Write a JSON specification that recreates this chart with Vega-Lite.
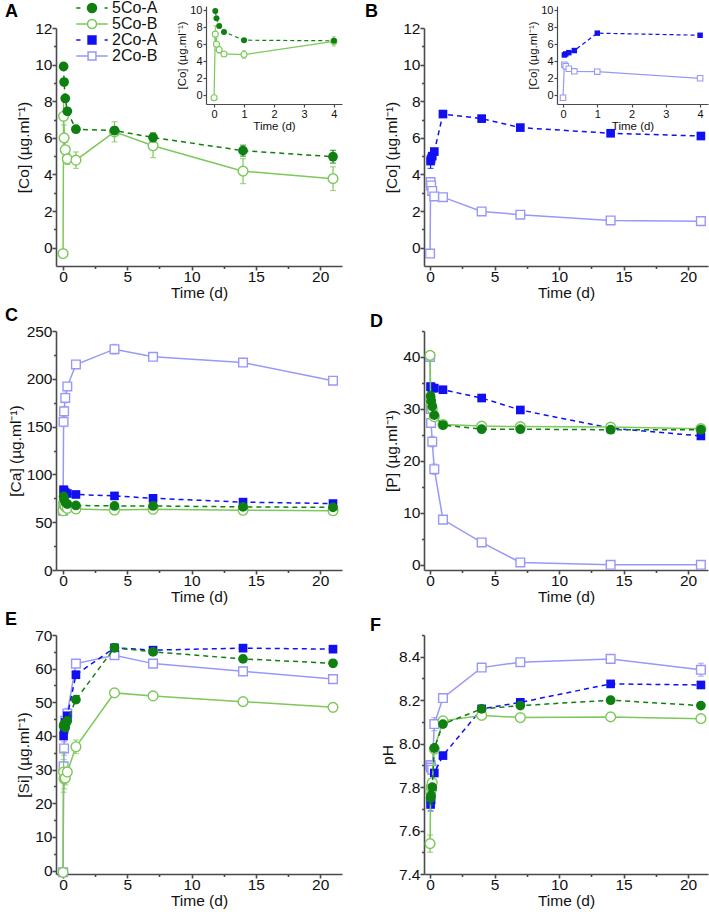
{
"$schema": "https://vega.github.io/schema/vega-lite/v6.json",
"padding": {"left": 5, "top": 0, "right": 1, "bottom": 0},
"bounds": "flush",
"columns": 2,
"spacing": {"row": 65, "column": 82},
"config": {
  "view": {"stroke": null},
  "axis": {"domainColor": "#4a4a4a", "domainWidth": 1.6, "tickColor": "#4a4a4a", "tickWidth": 1.6, "tickSize": 4, "labelFont": "Liberation Sans", "labelFontSize": 15.5, "labelColor": "#111", "titleFont": "Liberation Sans", "titleFontSize": 15.5, "titleFontWeight": "normal", "titleColor": "#111", "grid": false, "labelPadding": 0, "titlePadding": 3, "labelFlush": false, "labelOverlap": false},
  "axisX": {"labelPadding": -1, "titlePadding": 1},
  "title": {"font": "Liberation Sans", "fontSize": 18, "fontWeight": "bold", "anchor": "start", "frame": "group", "color": "#000"}
},
"datasets": {"d": [
{"p":"A","s":"5Co-A","t":0.04,"v":9.9,"e":0.15},{"p":"A","s":"5Co-A","t":0.08,"v":9.05,"e":0.15},{"p":"A","s":"5Co-A","t":0.17,"v":8.15,"e":0.1},{"p":"A","s":"5Co-A","t":0.33,"v":7.45,"e":0.1},{"p":"A","s":"5Co-A","t":1,"v":6.47,"e":0.1},{"p":"A","s":"5Co-A","t":4,"v":6.4,"e":0.2},{"p":"A","s":"5Co-A","t":7,"v":6.02,"e":0.25},{"p":"A","s":"5Co-A","t":14,"v":5.3,"e":0.3},{"p":"A","s":"5Co-A","t":21,"v":4.97,"e":0.35},
{"p":"A","s":"5Co-B","t":0,"v":-0.32,"e":0.1},{"p":"A","s":"5Co-B","t":0.04,"v":7.18,"e":1.0},{"p":"A","s":"5Co-B","t":0.08,"v":6.0,"e":0.7},{"p":"A","s":"5Co-B","t":0.17,"v":5.35,"e":0.4},{"p":"A","s":"5Co-B","t":0.33,"v":4.85,"e":0.3},{"p":"A","s":"5Co-B","t":1,"v":4.78,"e":0.45},{"p":"A","s":"5Co-B","t":4,"v":6.33,"e":0.55},{"p":"A","s":"5Co-B","t":7,"v":5.57,"e":0.65},{"p":"A","s":"5Co-B","t":14,"v":4.18,"e":0.68},{"p":"A","s":"5Co-B","t":21,"v":3.77,"e":0.65},
{"p":"B","s":"2Co-A","t":0.04,"v":4.73,"e":0.4},{"p":"B","s":"2Co-A","t":0.08,"v":4.85,"e":0.2},{"p":"B","s":"2Co-A","t":0.17,"v":5.0,"e":0.15},{"p":"B","s":"2Co-A","t":0.33,"v":5.25,"e":0.15},{"p":"B","s":"2Co-A","t":1,"v":7.3,"e":0.15},{"p":"B","s":"2Co-A","t":4,"v":7.05,"e":0.15},{"p":"B","s":"2Co-A","t":7,"v":6.56,"e":0.15},{"p":"B","s":"2Co-A","t":14,"v":6.25,"e":0.12},{"p":"B","s":"2Co-A","t":21,"v":6.1,"e":0.12},
{"p":"B","s":"2Co-B","t":0,"v":-0.32,"e":0.1},{"p":"B","s":"2Co-B","t":0.04,"v":3.58,"e":0.2},{"p":"B","s":"2Co-B","t":0.08,"v":3.4,"e":0.2},{"p":"B","s":"2Co-B","t":0.17,"v":3.1,"e":0.15},{"p":"B","s":"2Co-B","t":0.33,"v":2.8,"e":0.1},{"p":"B","s":"2Co-B","t":1,"v":2.76,"e":0.15},{"p":"B","s":"2Co-B","t":4,"v":1.98,"e":0.15},{"p":"B","s":"2Co-B","t":7,"v":1.8,"e":0.15},{"p":"B","s":"2Co-B","t":14,"v":1.49,"e":0.15},{"p":"B","s":"2Co-B","t":21,"v":1.45,"e":0.15},
{"p":"C","s":"2Co-B","t":0,"v":62,"e":2},{"p":"C","s":"2Co-B","t":0.04,"v":155,"e":5},{"p":"C","s":"2Co-B","t":0.08,"v":166,"e":5},{"p":"C","s":"2Co-B","t":0.17,"v":180,"e":5},{"p":"C","s":"2Co-B","t":0.33,"v":192,"e":4},{"p":"C","s":"2Co-B","t":1,"v":215,"e":3},{"p":"C","s":"2Co-B","t":4,"v":231,"e":5},{"p":"C","s":"2Co-B","t":7,"v":223,"e":4},{"p":"C","s":"2Co-B","t":14,"v":217,"e":4},{"p":"C","s":"2Co-B","t":21,"v":198,"e":4},
{"p":"C","s":"2Co-A","t":0.04,"v":84,"e":2},{"p":"C","s":"2Co-A","t":0.08,"v":83,"e":2},{"p":"C","s":"2Co-A","t":0.17,"v":81,"e":2},{"p":"C","s":"2Co-A","t":0.33,"v":80,"e":2},{"p":"C","s":"2Co-A","t":1,"v":79,"e":2},{"p":"C","s":"2Co-A","t":4,"v":77.5,"e":2},{"p":"C","s":"2Co-A","t":7,"v":75,"e":2},{"p":"C","s":"2Co-A","t":14,"v":71,"e":2},{"p":"C","s":"2Co-A","t":21,"v":69.5,"e":2},
{"p":"C","s":"5Co-B","t":0,"v":62,"e":2},{"p":"C","s":"5Co-B","t":0.04,"v":70,"e":3},{"p":"C","s":"5Co-B","t":0.08,"v":68,"e":3},{"p":"C","s":"5Co-B","t":0.17,"v":66,"e":3},{"p":"C","s":"5Co-B","t":0.33,"v":64.5,"e":3},{"p":"C","s":"5Co-B","t":1,"v":63.8,"e":3},{"p":"C","s":"5Co-B","t":4,"v":62.8,"e":3},{"p":"C","s":"5Co-B","t":7,"v":63.5,"e":3},{"p":"C","s":"5Co-B","t":14,"v":62.5,"e":3},{"p":"C","s":"5Co-B","t":21,"v":62,"e":3},
{"p":"C","s":"5Co-A","t":0.04,"v":77,"e":2},{"p":"C","s":"5Co-A","t":0.08,"v":74,"e":2},{"p":"C","s":"5Co-A","t":0.17,"v":71,"e":2},{"p":"C","s":"5Co-A","t":0.33,"v":69,"e":2},{"p":"C","s":"5Co-A","t":1,"v":67.5,"e":2},{"p":"C","s":"5Co-A","t":4,"v":67,"e":2},{"p":"C","s":"5Co-A","t":7,"v":67,"e":2},{"p":"C","s":"5Co-A","t":14,"v":66,"e":2},{"p":"C","s":"5Co-A","t":21,"v":65.5,"e":2},
{"p":"D","s":"2Co-B","t":0,"v":40,"e":0.5},{"p":"D","s":"2Co-B","t":0.04,"v":30,"e":0.5},{"p":"D","s":"2Co-B","t":0.08,"v":27.3,"e":0.6},{"p":"D","s":"2Co-B","t":0.17,"v":23.7,"e":1},{"p":"D","s":"2Co-B","t":0.33,"v":18.4,"e":1},{"p":"D","s":"2Co-B","t":1,"v":8.7,"e":0.6},{"p":"D","s":"2Co-B","t":4,"v":4.3,"e":0.5},{"p":"D","s":"2Co-B","t":7,"v":0.45,"e":0.4},{"p":"D","s":"2Co-B","t":14,"v":0,"e":0.3},{"p":"D","s":"2Co-B","t":21,"v":0,"e":0.3},
{"p":"D","s":"2Co-A","t":0.04,"v":34.3,"e":0.4},{"p":"D","s":"2Co-A","t":0.08,"v":34.2,"e":0.4},{"p":"D","s":"2Co-A","t":0.17,"v":34,"e":0.4},{"p":"D","s":"2Co-A","t":0.33,"v":34,"e":0.4},{"p":"D","s":"2Co-A","t":1,"v":33.7,"e":0.4},{"p":"D","s":"2Co-A","t":4,"v":32.1,"e":0.4},{"p":"D","s":"2Co-A","t":7,"v":29.8,"e":0.4},{"p":"D","s":"2Co-A","t":14,"v":26.3,"e":0.4},{"p":"D","s":"2Co-A","t":21,"v":24.8,"e":0.4},
{"p":"D","s":"5Co-B","t":0,"v":40.3,"e":0.5},{"p":"D","s":"5Co-B","t":0.04,"v":31.8,"e":0.5},{"p":"D","s":"5Co-B","t":0.08,"v":30.8,"e":0.5},{"p":"D","s":"5Co-B","t":0.17,"v":30,"e":0.5},{"p":"D","s":"5Co-B","t":0.33,"v":28.5,"e":0.5},{"p":"D","s":"5Co-B","t":1,"v":27,"e":0.5},{"p":"D","s":"5Co-B","t":4,"v":26.7,"e":0.5},{"p":"D","s":"5Co-B","t":7,"v":26.6,"e":0.5},{"p":"D","s":"5Co-B","t":14,"v":26.5,"e":0.5},{"p":"D","s":"5Co-B","t":21,"v":26.2,"e":0.5},
{"p":"D","s":"5Co-A","t":0.04,"v":32.5,"e":0.4},{"p":"D","s":"5Co-A","t":0.08,"v":31.5,"e":0.4},{"p":"D","s":"5Co-A","t":0.17,"v":30.5,"e":0.4},{"p":"D","s":"5Co-A","t":0.33,"v":28.8,"e":0.4},{"p":"D","s":"5Co-A","t":1,"v":26.9,"e":0.4},{"p":"D","s":"5Co-A","t":4,"v":26.1,"e":0.4},{"p":"D","s":"5Co-A","t":7,"v":26.1,"e":0.4},{"p":"D","s":"5Co-A","t":14,"v":26,"e":0.4},{"p":"D","s":"5Co-A","t":21,"v":26,"e":0.4},
{"p":"E","s":"2Co-B","t":0,"v":-0.5,"e":0.5},{"p":"E","s":"2Co-B","t":0.04,"v":31,"e":2},{"p":"E","s":"2Co-B","t":0.08,"v":36.3,"e":2},{"p":"E","s":"2Co-B","t":0.17,"v":44.5,"e":2},{"p":"E","s":"2Co-B","t":0.33,"v":46.7,"e":1.5},{"p":"E","s":"2Co-B","t":1,"v":61.5,"e":1},{"p":"E","s":"2Co-B","t":4,"v":64,"e":1},{"p":"E","s":"2Co-B","t":7,"v":61.5,"e":1},{"p":"E","s":"2Co-B","t":14,"v":59.2,"e":1},{"p":"E","s":"2Co-B","t":21,"v":56.9,"e":1},
{"p":"E","s":"2Co-A","t":0.04,"v":40,"e":1},{"p":"E","s":"2Co-A","t":0.08,"v":42,"e":1},{"p":"E","s":"2Co-A","t":0.17,"v":44,"e":1},{"p":"E","s":"2Co-A","t":0.33,"v":46,"e":1},{"p":"E","s":"2Co-A","t":1,"v":58.2,"e":1},{"p":"E","s":"2Co-A","t":4,"v":66.2,"e":1},{"p":"E","s":"2Co-A","t":7,"v":65.5,"e":1},{"p":"E","s":"2Co-A","t":14,"v":66.1,"e":1},{"p":"E","s":"2Co-A","t":21,"v":65.8,"e":1},
{"p":"E","s":"5Co-B","t":0,"v":-0.5,"e":0.5},{"p":"E","s":"5Co-B","t":0.04,"v":29.3,"e":6},{"p":"E","s":"5Co-B","t":0.08,"v":27.3,"e":3},{"p":"E","s":"5Co-B","t":0.17,"v":27.5,"e":2},{"p":"E","s":"5Co-B","t":0.33,"v":29.3,"e":1.5},{"p":"E","s":"5Co-B","t":1,"v":36.8,"e":2},{"p":"E","s":"5Co-B","t":4,"v":52.8,"e":1},{"p":"E","s":"5Co-B","t":7,"v":51.9,"e":1},{"p":"E","s":"5Co-B","t":14,"v":50.2,"e":1},{"p":"E","s":"5Co-B","t":21,"v":48.5,"e":1},
{"p":"E","s":"5Co-A","t":0.04,"v":43,"e":1},{"p":"E","s":"5Co-A","t":0.08,"v":43.5,"e":1},{"p":"E","s":"5Co-A","t":0.17,"v":42.5,"e":1},{"p":"E","s":"5Co-A","t":0.33,"v":44.5,"e":1},{"p":"E","s":"5Co-A","t":1,"v":50.8,"e":1},{"p":"E","s":"5Co-A","t":4,"v":66.2,"e":1},{"p":"E","s":"5Co-A","t":7,"v":65,"e":1},{"p":"E","s":"5Co-A","t":14,"v":62.9,"e":1},{"p":"E","s":"5Co-A","t":21,"v":61.6,"e":1},
{"p":"F","s":"2Co-B","t":0,"v":7.9,"e":0.01},{"p":"F","s":"2Co-B","t":0.04,"v":7.9,"e":0.01},{"p":"F","s":"2Co-B","t":0.08,"v":7.89,"e":0.01},{"p":"F","s":"2Co-B","t":0.17,"v":7.88,"e":0.01},{"p":"F","s":"2Co-B","t":0.33,"v":8.09,"e":0.03},{"p":"F","s":"2Co-B","t":1,"v":8.21,"e":0.01},{"p":"F","s":"2Co-B","t":4,"v":8.35,"e":0.01},{"p":"F","s":"2Co-B","t":7,"v":8.375,"e":0.01},{"p":"F","s":"2Co-B","t":14,"v":8.39,"e":0.01},{"p":"F","s":"2Co-B","t":21,"v":8.34,"e":0.03},
{"p":"F","s":"2Co-A","t":0.04,"v":7.72,"e":0.03},{"p":"F","s":"2Co-A","t":0.08,"v":7.74,"e":0.01},{"p":"F","s":"2Co-A","t":0.17,"v":7.8,"e":0.01},{"p":"F","s":"2Co-A","t":0.33,"v":7.865,"e":0.01},{"p":"F","s":"2Co-A","t":1,"v":7.945,"e":0.01},{"p":"F","s":"2Co-A","t":4,"v":8.16,"e":0.01},{"p":"F","s":"2Co-A","t":7,"v":8.19,"e":0.01},{"p":"F","s":"2Co-A","t":14,"v":8.275,"e":0.01},{"p":"F","s":"2Co-A","t":21,"v":8.27,"e":0.01},
{"p":"F","s":"5Co-B","t":0,"v":7.54,"e":0.04},{"p":"F","s":"5Co-B","t":0.04,"v":7.78,"e":0.01},{"p":"F","s":"5Co-B","t":0.08,"v":7.8,"e":0.01},{"p":"F","s":"5Co-B","t":0.17,"v":7.82,"e":0.01},{"p":"F","s":"5Co-B","t":0.33,"v":7.975,"e":0.01},{"p":"F","s":"5Co-B","t":1,"v":8.105,"e":0.01},{"p":"F","s":"5Co-B","t":4,"v":8.13,"e":0.01},{"p":"F","s":"5Co-B","t":7,"v":8.12,"e":0.01},{"p":"F","s":"5Co-B","t":14,"v":8.123,"e":0.01},{"p":"F","s":"5Co-B","t":21,"v":8.115,"e":0.01},
{"p":"F","s":"5Co-A","t":0.04,"v":7.75,"e":0.03},{"p":"F","s":"5Co-A","t":0.08,"v":7.76,"e":0.01},{"p":"F","s":"5Co-A","t":0.17,"v":7.8,"e":0.01},{"p":"F","s":"5Co-A","t":0.33,"v":7.98,"e":0.01},{"p":"F","s":"5Co-A","t":1,"v":8.09,"e":0.01},{"p":"F","s":"5Co-A","t":4,"v":8.16,"e":0.01},{"p":"F","s":"5Co-A","t":7,"v":8.175,"e":0.01},{"p":"F","s":"5Co-A","t":14,"v":8.2,"e":0.01},{"p":"F","s":"5Co-A","t":21,"v":8.175,"e":0.01}
]},
"concat": [
 {"width": 286, "height": 238, "data": {"name": "d"}, "transform": [{"filter": "datum.p=='A'"}],
  "title": {"text": "A", "dx": -51, "offset": 0, "dy": 17},
  "layer": [
   {"layer": [
     {"encoding": {
       "x": {"field": "t", "type": "quantitative", "scale": {"domain": [-0.55, 21.7], "nice": false, "zero": false}, "axis": {"title": "Time (d)", "values": [0, 5, 10, 15, 20]}},
       "y": {"field": "v", "type": "quantitative", "scale": {"domain": [-1, 12], "nice": false, "zero": false}, "axis": {"title": "[Co] (µg.ml⁻¹)", "values": [0, 2, 4, 6, 8, 10, 12]}}},
      "layer": [
       {"transform": [{"filter": "datum.s=='5Co-B'"}], "layer": [
         {"mark": {"type": "line", "color": "#7dc85a", "strokeWidth": 1.5}},
         {"mark": {"type": "errorbar", "color": "#7dc85a", "ticks": true, "size": 6, "thickness": 1.2}, "encoding": {"yError": {"field": "e"}}},
         {"mark": {"type": "point", "shape": "circle", "filled": false, "fill": "white", "color": "#7dc85a", "size": 95, "strokeWidth": 1.4, "opacity": 1}}]},
       {"transform": [{"filter": "datum.s=='5Co-A'"}], "layer": [
         {"mark": {"type": "line", "color": "#0f7f12", "strokeWidth": 1.5, "strokeDash": [5, 4]}},
         {"mark": {"type": "errorbar", "color": "#0f7f12", "ticks": true, "size": 6, "thickness": 1.2}, "encoding": {"yError": {"field": "e"}}},
         {"mark": {"type": "point", "shape": "circle", "filled": true, "color": "#0f7f12", "size": 95, "opacity": 1}}]}
      ]},
     {"mark": {"type": "point", "opacity": 0},
      "encoding": {
       "x": {"field": "t", "type": "quantitative", "scale": {"domain": [-0.55, 21.7], "nice": false, "zero": false}, "axis": {"orient": "bottom", "values": [2.5, 7.5, 12.5, 17.5], "labels": false, "domain": false, "title": null, "tickSize": 2.5}},
       "y": {"field": "v", "type": "quantitative", "scale": {"domain": [-1, 12], "nice": false, "zero": false}, "axis": {"orient": "left", "values": [1, 3, 5, 7, 9, 11], "labels": false, "domain": false, "title": null, "tickSize": 2.5}}}}
    ],
    "resolve": {"axis": {"x": "independent", "y": "independent"}}},
   {"transform": [{"filter": "datum.t<=4"}],
    "encoding": {
     "x": {"field": "t", "type": "quantitative", "scale": {"domain": [-0.27, 4.27], "range": [150, 286], "nice": false, "zero": false}, "axis": {"title": "Time (d)", "orient": "bottom", "offset": -162, "values": [0, 1, 2, 3, 4], "labelFontSize": 11, "titleFontSize": 11.5, "tickSize": 3, "domainWidth": 1.2, "tickWidth": 1.2, "labelPadding": 1, "titlePadding": 1}},
     "y": {"field": "v", "type": "quantitative", "scale": {"domain": [-1.05, 10.5], "range": [76, -22], "nice": false, "zero": false}, "axis": {"title": "[Co] (µg.ml⁻¹)", "orient": "left", "offset": -150, "values": [0, 2, 4, 6, 8, 10], "labelFontSize": 11, "titleFontSize": 11.5, "tickSize": 3, "domainWidth": 1.2, "tickWidth": 1.2, "labelPadding": 1, "titlePadding": 2}}},
    "layer": [
     {"transform": [{"filter": "datum.s=='5Co-B'"}], "layer": [
       {"mark": {"type": "line", "color": "#7dc85a", "strokeWidth": 1.2}},
       {"mark": {"type": "errorbar", "color": "#7dc85a", "ticks": true, "size": 4, "thickness": 1}, "encoding": {"yError": {"field": "e"}}},
       {"mark": {"type": "point", "shape": "circle", "filled": false, "fill": "white", "color": "#7dc85a", "size": 36, "strokeWidth": 1.1, "opacity": 1}}]},
     {"transform": [{"filter": "datum.s=='5Co-A'"}], "layer": [
       {"mark": {"type": "line", "color": "#0f7f12", "strokeWidth": 1.2, "strokeDash": [4, 3]}},
       {"mark": {"type": "point", "shape": "circle", "filled": true, "color": "#0f7f12", "size": 36, "opacity": 1}}]}
    ]},
   {"data": {"values": [{"s": "5Co-A"}, {"s": "5Co-B"}, {"s": "2Co-A"}, {"s": "2Co-B"}]},
    "transform": [{"filter": "datum.s=='none'"}],
    "mark": {"type": "point", "strokeWidth": 1.5, "opacity": 1, "size": 110},
    "encoding": {
     "shape": {"field": "s", "type": "nominal", "scale": {"domain": ["5Co-A", "5Co-B", "2Co-A", "2Co-B"], "range": ["M-3,0H-2.2M2.4,0H3M-0.86,0A0.86,0.86,0,1,0,0.86,0A0.86,0.86,0,1,0,-0.86,0Z", "M-3,0H-0.86M0.86,0H3M-0.86,0A0.86,0.86,0,1,0,0.86,0A0.86,0.86,0,1,0,-0.86,0Z", "M-3,0H-2.2M2.4,0H3M-0.75,-0.75H0.75V0.75H-0.75Z", "M-3,0H-0.75M0.75,0H3M-0.75,-0.75H0.75V0.75H-0.75Z"]},
       "legend": {"title": null, "orient": "none", "legendX": 28, "legendY": -28, "labelFontSize": 16, "labelFont": "Liberation Sans", "labelColor": "#111", "symbolSize": 110, "symbolStrokeWidth": 1.5, "labelOffset": 12, "rowPadding": -0.5, "padding": 0}},
     "stroke": {"field": "s", "type": "nominal", "scale": {"domain": ["5Co-A", "5Co-B", "2Co-A", "2Co-B"], "range": ["#0f7f12", "#7dc85a", "#1010f0", "#9898f8"]},
       "legend": {"title": null, "orient": "none", "legendX": 28, "legendY": -28, "labelFontSize": 16, "labelFont": "Liberation Sans", "labelColor": "#111", "symbolSize": 110, "symbolStrokeWidth": 1.5, "labelOffset": 12, "rowPadding": -0.5, "padding": 0}},
     "fill": {"field": "s", "type": "nominal", "scale": {"domain": ["5Co-A", "5Co-B", "2Co-A", "2Co-B"], "range": ["#0f7f12", "#ffffff", "#1010f0", "#ffffff"]},
       "legend": {"title": null, "orient": "none", "legendX": 28, "legendY": -28, "labelFontSize": 16, "labelFont": "Liberation Sans", "labelColor": "#111", "symbolSize": 110, "symbolStrokeWidth": 1.5, "labelOffset": 12, "rowPadding": -0.5, "padding": 0}}}}
  ],
  "resolve": {"scale": {"x": "independent", "y": "independent"}}},
 {"width": 284, "height": 238, "data": {"name": "d"}, "transform": [{"filter": "datum.p=='B'"}],
  "title": {"text": "B", "dx": -59, "offset": 0, "dy": 17},
  "layer": [
   {"layer": [
     {"encoding": {
       "x": {"field": "t", "type": "quantitative", "scale": {"domain": [-0.47, 21.55], "nice": false, "zero": false}, "axis": {"title": "Time (d)", "values": [0, 5, 10, 15, 20]}},
       "y": {"field": "v", "type": "quantitative", "scale": {"domain": [-1, 12], "nice": false, "zero": false}, "axis": {"title": "[Co] (µg.ml⁻¹)", "values": [0, 2, 4, 6, 8, 10, 12]}}},
      "layer": [
       {"transform": [{"filter": "datum.s=='2Co-B'"}], "layer": [
         {"mark": {"type": "line", "color": "#9898f8", "strokeWidth": 1.5}},
         {"mark": {"type": "errorbar", "color": "#9898f8", "ticks": true, "size": 6, "thickness": 1.2}, "encoding": {"yError": {"field": "e"}}},
         {"mark": {"type": "point", "shape": "square", "filled": false, "fill": "white", "color": "#9898f8", "size": 75, "strokeWidth": 1.4, "opacity": 1}}]},
       {"transform": [{"filter": "datum.s=='2Co-A'"}], "layer": [
         {"mark": {"type": "line", "color": "#1010f0", "strokeWidth": 1.5, "strokeDash": [5, 4]}},
         {"mark": {"type": "errorbar", "color": "#1010f0", "ticks": true, "size": 6, "thickness": 1.2}, "encoding": {"yError": {"field": "e"}}},
         {"mark": {"type": "point", "shape": "square", "filled": true, "color": "#1010f0", "size": 75, "opacity": 1}}]}
      ]},
     {"mark": {"type": "point", "opacity": 0},
      "encoding": {
       "x": {"field": "t", "type": "quantitative", "scale": {"domain": [-0.47, 21.55], "nice": false, "zero": false}, "axis": {"orient": "bottom", "values": [2.5, 7.5, 12.5, 17.5], "labels": false, "domain": false, "title": null, "tickSize": 2.5}},
       "y": {"field": "v", "type": "quantitative", "scale": {"domain": [-1, 12], "nice": false, "zero": false}, "axis": {"orient": "left", "values": [1, 3, 5, 7, 9, 11], "labels": false, "domain": false, "title": null, "tickSize": 2.5}}}}
    ],
    "resolve": {"axis": {"x": "independent", "y": "independent"}}},
   {"transform": [{"filter": "datum.t<=4"}],
    "encoding": {
     "x": {"field": "t", "type": "quantitative", "scale": {"domain": [-0.175, 4.23], "range": [133, 284], "nice": false, "zero": false}, "axis": {"title": "Time (d)", "orient": "bottom", "offset": -162, "values": [0, 1, 2, 3, 4], "labelFontSize": 11, "titleFontSize": 11.5, "tickSize": 3, "domainWidth": 1.2, "tickWidth": 1.2, "labelPadding": 1, "titlePadding": 1}},
     "y": {"field": "v", "type": "quantitative", "scale": {"domain": [-1.05, 10.5], "range": [76, -22], "nice": false, "zero": false}, "axis": {"title": "[Co] (µg.ml⁻¹)", "orient": "left", "offset": -133, "values": [0, 2, 4, 6, 8, 10], "labelFontSize": 11, "titleFontSize": 11.5, "tickSize": 3, "domainWidth": 1.2, "tickWidth": 1.2, "labelPadding": 1, "titlePadding": 2}}},
    "layer": [
     {"transform": [{"filter": "datum.s=='2Co-B'"}], "layer": [
       {"mark": {"type": "line", "color": "#9898f8", "strokeWidth": 1.2}},
       {"mark": {"type": "point", "shape": "square", "filled": false, "fill": "white", "color": "#9898f8", "size": 30, "strokeWidth": 1.1, "opacity": 1}}]},
     {"transform": [{"filter": "datum.s=='2Co-A'"}], "layer": [
       {"mark": {"type": "line", "color": "#1010f0", "strokeWidth": 1.2, "strokeDash": [4, 3]}},
       {"mark": {"type": "point", "shape": "square", "filled": true, "color": "#1010f0", "size": 30, "opacity": 1}}]}
    ]}
  ],
  "resolve": {"scale": {"x": "independent", "y": "independent"}}},
 {"width": 286, "height": 239, "data": {"name": "d"}, "transform": [{"filter": "datum.p=='C'"}],
  "title": {"text": "C", "dx": -51, "offset": 9, "dy": 10},
  "layer": [
   {"encoding": {
     "x": {"field": "t", "type": "quantitative", "scale": {"domain": [-0.55, 21.7], "nice": false, "zero": false}, "axis": {"title": "Time (d)", "values": [0, 5, 10, 15, 20]}},
     "y": {"field": "v", "type": "quantitative", "scale": {"domain": [0, 250], "nice": false, "zero": false}, "axis": {"title": "[Ca] (µg.ml⁻¹)", "values": [0, 50, 100, 150, 200, 250]}}},
    "layer": [
     {"transform": [{"filter": "datum.s=='2Co-B'"}], "layer": [
       {"mark": {"type": "line", "color": "#9898f8", "strokeWidth": 1.5}},
       {"mark": {"type": "errorbar", "color": "#9898f8", "ticks": true, "size": 6, "thickness": 1.2}, "encoding": {"yError": {"field": "e"}}},
       {"mark": {"type": "point", "shape": "square", "filled": false, "fill": "white", "color": "#9898f8", "size": 75, "strokeWidth": 1.4, "opacity": 1}}]},
     {"transform": [{"filter": "datum.s=='2Co-A'"}], "layer": [
       {"mark": {"type": "line", "color": "#1010f0", "strokeWidth": 1.5, "strokeDash": [5, 4]}},
       {"mark": {"type": "errorbar", "color": "#1010f0", "ticks": true, "size": 6, "thickness": 1.2}, "encoding": {"yError": {"field": "e"}}},
       {"mark": {"type": "point", "shape": "square", "filled": true, "color": "#1010f0", "size": 75, "opacity": 1}}]},
     {"transform": [{"filter": "datum.s=='5Co-B'"}], "layer": [
       {"mark": {"type": "line", "color": "#7dc85a", "strokeWidth": 1.5}},
       {"mark": {"type": "errorbar", "color": "#7dc85a", "ticks": true, "size": 6, "thickness": 1.2}, "encoding": {"yError": {"field": "e"}}},
       {"mark": {"type": "point", "shape": "circle", "filled": false, "fill": "white", "color": "#7dc85a", "size": 95, "strokeWidth": 1.4, "opacity": 1}}]},
     {"transform": [{"filter": "datum.s=='5Co-A'"}], "layer": [
       {"mark": {"type": "line", "color": "#0f7f12", "strokeWidth": 1.5, "strokeDash": [5, 4]}},
       {"mark": {"type": "errorbar", "color": "#0f7f12", "ticks": true, "size": 6, "thickness": 1.2}, "encoding": {"yError": {"field": "e"}}},
       {"mark": {"type": "point", "shape": "circle", "filled": true, "color": "#0f7f12", "size": 95, "opacity": 1}}]}
    ]},
   {"mark": {"type": "point", "opacity": 0},
    "encoding": {
     "x": {"field": "t", "type": "quantitative", "scale": {"domain": [-0.55, 21.7], "nice": false, "zero": false}, "axis": {"orient": "bottom", "values": [2.5, 7.5, 12.5, 17.5], "labels": false, "domain": false, "title": null, "tickSize": 2.5}},
     "y": {"field": "v", "type": "quantitative", "scale": {"domain": [0, 250], "nice": false, "zero": false}, "axis": {"orient": "left", "values": [25, 75, 125, 175, 225], "labels": false, "domain": false, "title": null, "tickSize": 2.5}}}}
  ],
  "resolve": {"axis": {"x": "independent", "y": "independent"}}},
 {"width": 284, "height": 239, "data": {"name": "d"}, "transform": [{"filter": "datum.p=='D'"}],
  "title": {"text": "D", "dx": -54, "offset": 9, "dy": 10},
  "layer": [
   {"encoding": {
     "x": {"field": "t", "type": "quantitative", "scale": {"domain": [-0.47, 21.55], "nice": false, "zero": false}, "axis": {"title": "Time (d)", "values": [0, 5, 10, 15, 20]}},
     "y": {"field": "v", "type": "quantitative", "scale": {"domain": [-1, 45], "nice": false, "zero": false}, "axis": {"title": "[P] (µg.ml⁻¹)", "values": [0, 10, 20, 30, 40]}}},
    "layer": [
     {"transform": [{"filter": "datum.s=='2Co-B'"}], "layer": [
       {"mark": {"type": "line", "color": "#9898f8", "strokeWidth": 1.5}},
       {"mark": {"type": "errorbar", "color": "#9898f8", "ticks": true, "size": 6, "thickness": 1.2}, "encoding": {"yError": {"field": "e"}}},
       {"mark": {"type": "point", "shape": "square", "filled": false, "fill": "white", "color": "#9898f8", "size": 75, "strokeWidth": 1.4, "opacity": 1}}]},
     {"transform": [{"filter": "datum.s=='2Co-A'"}], "layer": [
       {"mark": {"type": "line", "color": "#1010f0", "strokeWidth": 1.5, "strokeDash": [5, 4]}},
       {"mark": {"type": "errorbar", "color": "#1010f0", "ticks": true, "size": 6, "thickness": 1.2}, "encoding": {"yError": {"field": "e"}}},
       {"mark": {"type": "point", "shape": "square", "filled": true, "color": "#1010f0", "size": 75, "opacity": 1}}]},
     {"transform": [{"filter": "datum.s=='5Co-B'"}], "layer": [
       {"mark": {"type": "line", "color": "#7dc85a", "strokeWidth": 1.5}},
       {"mark": {"type": "errorbar", "color": "#7dc85a", "ticks": true, "size": 6, "thickness": 1.2}, "encoding": {"yError": {"field": "e"}}},
       {"mark": {"type": "point", "shape": "circle", "filled": false, "fill": "white", "color": "#7dc85a", "size": 95, "strokeWidth": 1.4, "opacity": 1}}]},
     {"transform": [{"filter": "datum.s=='5Co-A'"}], "layer": [
       {"mark": {"type": "line", "color": "#0f7f12", "strokeWidth": 1.5, "strokeDash": [5, 4]}},
       {"mark": {"type": "errorbar", "color": "#0f7f12", "ticks": true, "size": 6, "thickness": 1.2}, "encoding": {"yError": {"field": "e"}}},
       {"mark": {"type": "point", "shape": "circle", "filled": true, "color": "#0f7f12", "size": 95, "opacity": 1}}]}
    ]},
   {"mark": {"type": "point", "opacity": 0},
    "encoding": {
     "x": {"field": "t", "type": "quantitative", "scale": {"domain": [-0.47, 21.55], "nice": false, "zero": false}, "axis": {"orient": "bottom", "values": [2.5, 7.5, 12.5, 17.5], "labels": false, "domain": false, "title": null, "tickSize": 2.5}},
     "y": {"field": "v", "type": "quantitative", "scale": {"domain": [-1, 45], "nice": false, "zero": false}, "axis": {"orient": "left", "values": [5, 15, 25, 35, 45], "labels": false, "domain": false, "title": null, "tickSize": 2.5}}}}
  ],
  "resolve": {"axis": {"x": "independent", "y": "independent"}}},
 {"width": 286, "height": 239, "data": {"name": "d"}, "transform": [{"filter": "datum.p=='E'"}],
  "title": {"text": "E", "dx": -51, "offset": 9, "dy": 10},
  "layer": [
   {"encoding": {
     "x": {"field": "t", "type": "quantitative", "scale": {"domain": [-0.55, 21.7], "nice": false, "zero": false}, "axis": {"title": "Time (d)", "values": [0, 5, 10, 15, 20]}},
     "y": {"field": "v", "type": "quantitative", "scale": {"domain": [-1, 70], "nice": false, "zero": false}, "axis": {"title": "[Si] (µg.ml⁻¹)", "values": [0, 10, 20, 30, 40, 50, 60, 70]}}},
    "layer": [
     {"transform": [{"filter": "datum.s=='2Co-B'"}], "layer": [
       {"mark": {"type": "line", "color": "#9898f8", "strokeWidth": 1.5}},
       {"mark": {"type": "errorbar", "color": "#9898f8", "ticks": true, "size": 6, "thickness": 1.2}, "encoding": {"yError": {"field": "e"}}},
       {"mark": {"type": "point", "shape": "square", "filled": false, "fill": "white", "color": "#9898f8", "size": 75, "strokeWidth": 1.4, "opacity": 1}}]},
     {"transform": [{"filter": "datum.s=='2Co-A'"}], "layer": [
       {"mark": {"type": "line", "color": "#1010f0", "strokeWidth": 1.5, "strokeDash": [5, 4]}},
       {"mark": {"type": "errorbar", "color": "#1010f0", "ticks": true, "size": 6, "thickness": 1.2}, "encoding": {"yError": {"field": "e"}}},
       {"mark": {"type": "point", "shape": "square", "filled": true, "color": "#1010f0", "size": 75, "opacity": 1}}]},
     {"transform": [{"filter": "datum.s=='5Co-B'"}], "layer": [
       {"mark": {"type": "line", "color": "#7dc85a", "strokeWidth": 1.5}},
       {"mark": {"type": "errorbar", "color": "#7dc85a", "ticks": true, "size": 6, "thickness": 1.2}, "encoding": {"yError": {"field": "e"}}},
       {"mark": {"type": "point", "shape": "circle", "filled": false, "fill": "white", "color": "#7dc85a", "size": 95, "strokeWidth": 1.4, "opacity": 1}}]},
     {"transform": [{"filter": "datum.s=='5Co-A'"}], "layer": [
       {"mark": {"type": "line", "color": "#0f7f12", "strokeWidth": 1.5, "strokeDash": [5, 4]}},
       {"mark": {"type": "errorbar", "color": "#0f7f12", "ticks": true, "size": 6, "thickness": 1.2}, "encoding": {"yError": {"field": "e"}}},
       {"mark": {"type": "point", "shape": "circle", "filled": true, "color": "#0f7f12", "size": 95, "opacity": 1}}]}
    ]},
   {"mark": {"type": "point", "opacity": 0},
    "encoding": {
     "x": {"field": "t", "type": "quantitative", "scale": {"domain": [-0.55, 21.7], "nice": false, "zero": false}, "axis": {"orient": "bottom", "values": [2.5, 7.5, 12.5, 17.5], "labels": false, "domain": false, "title": null, "tickSize": 2.5}},
     "y": {"field": "v", "type": "quantitative", "scale": {"domain": [-1, 70], "nice": false, "zero": false}, "axis": {"orient": "left", "values": [5, 15, 25, 35, 45, 55, 65], "labels": false, "domain": false, "title": null, "tickSize": 2.5}}}}
  ],
  "resolve": {"axis": {"x": "independent", "y": "independent"}}},
 {"width": 284, "height": 239, "data": {"name": "d"}, "transform": [{"filter": "datum.p=='F'"}],
  "title": {"text": "F", "dx": -54, "offset": 9, "dy": 10},
  "layer": [
   {"encoding": {
     "x": {"field": "t", "type": "quantitative", "scale": {"domain": [-0.47, 21.55], "nice": false, "zero": false}, "axis": {"title": "Time (d)", "values": [0, 5, 10, 15, 20]}},
     "y": {"field": "v", "type": "quantitative", "scale": {"domain": [7.4, 8.5], "nice": false, "zero": false}, "axis": {"title": "pH", "values": [7.4, 7.6, 7.8, 8.0, 8.2, 8.4], "format": ".1f"}}},
    "layer": [
     {"transform": [{"filter": "datum.s=='2Co-B'"}], "layer": [
       {"mark": {"type": "line", "color": "#9898f8", "strokeWidth": 1.5}},
       {"mark": {"type": "errorbar", "color": "#9898f8", "ticks": true, "size": 6, "thickness": 1.2}, "encoding": {"yError": {"field": "e"}}},
       {"mark": {"type": "point", "shape": "square", "filled": false, "fill": "white", "color": "#9898f8", "size": 75, "strokeWidth": 1.4, "opacity": 1}}]},
     {"transform": [{"filter": "datum.s=='2Co-A'"}], "layer": [
       {"mark": {"type": "line", "color": "#1010f0", "strokeWidth": 1.5, "strokeDash": [5, 4]}},
       {"mark": {"type": "errorbar", "color": "#1010f0", "ticks": true, "size": 6, "thickness": 1.2}, "encoding": {"yError": {"field": "e"}}},
       {"mark": {"type": "point", "shape": "square", "filled": true, "color": "#1010f0", "size": 75, "opacity": 1}}]},
     {"transform": [{"filter": "datum.s=='5Co-B'"}], "layer": [
       {"mark": {"type": "line", "color": "#7dc85a", "strokeWidth": 1.5}},
       {"mark": {"type": "errorbar", "color": "#7dc85a", "ticks": true, "size": 6, "thickness": 1.2}, "encoding": {"yError": {"field": "e"}}},
       {"mark": {"type": "point", "shape": "circle", "filled": false, "fill": "white", "color": "#7dc85a", "size": 95, "strokeWidth": 1.4, "opacity": 1}}]},
     {"transform": [{"filter": "datum.s=='5Co-A'"}], "layer": [
       {"mark": {"type": "line", "color": "#0f7f12", "strokeWidth": 1.5, "strokeDash": [5, 4]}},
       {"mark": {"type": "errorbar", "color": "#0f7f12", "ticks": true, "size": 6, "thickness": 1.2}, "encoding": {"yError": {"field": "e"}}},
       {"mark": {"type": "point", "shape": "circle", "filled": true, "color": "#0f7f12", "size": 95, "opacity": 1}}]}
    ]},
   {"mark": {"type": "point", "opacity": 0},
    "encoding": {
     "x": {"field": "t", "type": "quantitative", "scale": {"domain": [-0.47, 21.55], "nice": false, "zero": false}, "axis": {"orient": "bottom", "values": [2.5, 7.5, 12.5, 17.5], "labels": false, "domain": false, "title": null, "tickSize": 2.5}},
     "y": {"field": "v", "type": "quantitative", "scale": {"domain": [7.4, 8.5], "nice": false, "zero": false}, "axis": {"orient": "left", "values": [7.5, 7.7, 7.9, 8.1, 8.3, 8.5], "labels": false, "domain": false, "title": null, "tickSize": 2.5}}}}
  ],
  "resolve": {"axis": {"x": "independent", "y": "independent"}}}
]
}
